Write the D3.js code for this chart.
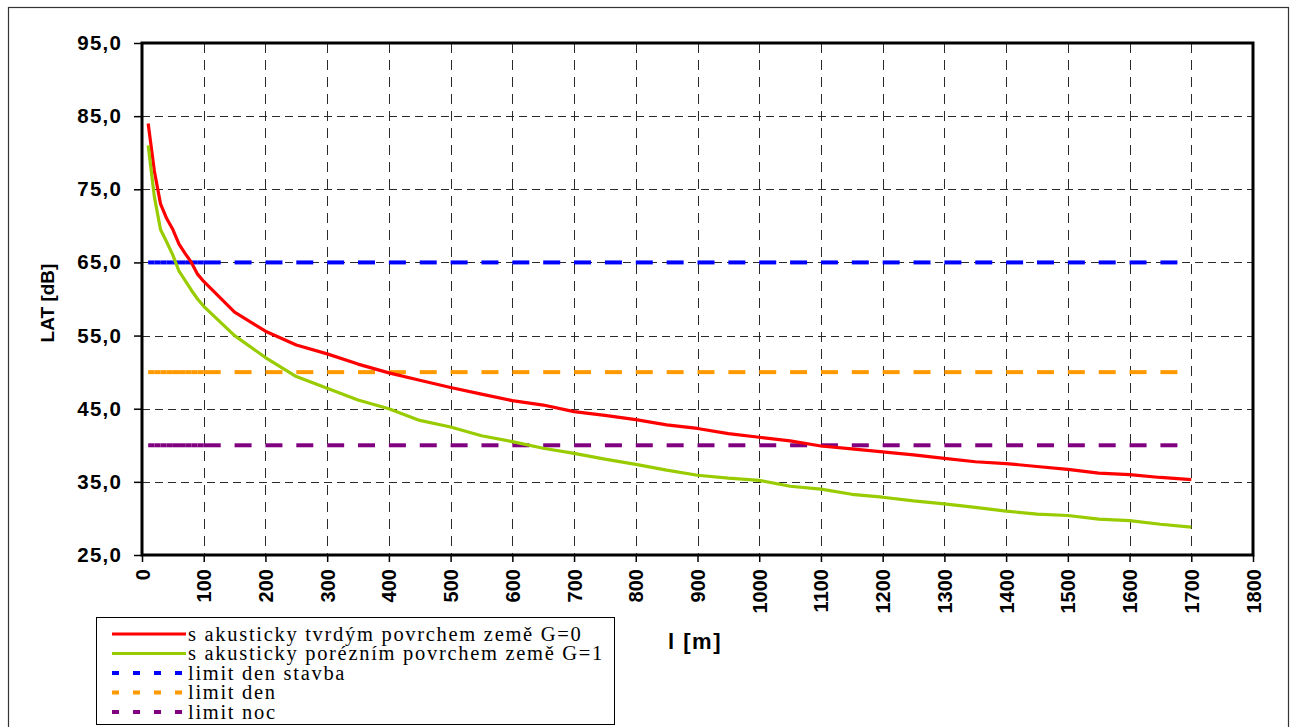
<!DOCTYPE html>
<html>
<head>
<meta charset="utf-8">
<script src="https://cdn.jsdelivr.net/npm/d3@7/dist/d3.min.js"></script>
<style>
  html, body { margin: 0; padding: 0; background: #fff; }
  svg { display: block; }
</style>
</head>
<body>
<svg id="chart" width="1291" height="727"></svg>
<script>
// ---- data ----
const distances = [10, 20, 30, 40, 50, 60, 70, 80, 90, 100,
  150, 200, 250, 300, 350, 400, 450, 500, 550, 600, 650, 700, 750, 800, 850,
  900, 950, 1000, 1050, 1100, 1150, 1200, 1250, 1300, 1350, 1400, 1450, 1500,
  1550, 1600, 1650, 1700];
const hardG0 = [84.0, 77.5, 73.0, 71.0, 69.5, 67.5, 66.2, 65.0, 63.4, 62.4,
  58.2, 55.6, 53.7, 52.5, 51.1, 49.9, 48.9, 47.9, 47.0, 46.1, 45.5, 44.6, 44.1, 43.5, 42.8,
  42.3, 41.6, 41.1, 40.6, 39.9, 39.5, 39.1, 38.7, 38.2, 37.75, 37.5, 37.1, 36.7,
  36.2, 36.0, 35.6, 35.3];
const porousG1 = [81.0, 74.0, 69.5, 67.8, 66.0, 63.8, 62.5, 61.2, 60.0, 59.0,
  55.0, 52.0, 49.4, 47.8, 46.2, 45.0, 43.4, 42.5, 41.3, 40.5, 39.6, 38.9, 38.1, 37.4, 36.6,
  35.9, 35.5, 35.2, 34.4, 34.0, 33.3, 32.9, 32.4, 32.0, 31.5, 31.0, 30.6, 30.4,
  29.9, 29.7, 29.2, 28.8];
const limitDenStavba = 65;
const limitDen = 50;
const limitNoc = 40;
const seriesNames = [
  "s akusticky tvrdým povrchem země G=0",
  "s akusticky porézním povrchem země G=1",
  "limit den stavba",
  "limit den",
  "limit noc"
];
const seriesColors = ["#FF0000", "#99CC00", "#0000FF", "#FF9900", "#800080"];
const xTicks = [0, 100, 200, 300, 400, 500, 600, 700, 800, 900, 1000, 1100, 1200, 1300, 1400, 1500, 1600, 1700, 1800];
const yTicks = [25, 35, 45, 55, 65, 75, 85, 95];
const xTitle = "l [m]";
const yTitle = "LAT [dB]";

// ---- layout ----
const svg = d3.select("#chart");
const plot = { left: 142, top: 43, right: 1253, bottom: 555 };

const x = d3.scaleLinear().domain([0, 1800]).range([plot.left, plot.right]);
const y = d3.scaleLinear().domain([25, 95]).range([plot.bottom, plot.top]);

// outer frame
svg.append("rect")
  .attr("x", 8.5).attr("y", 7.5).attr("width", 1280).attr("height", 740)
  .attr("fill", "#fff").attr("stroke", "#333").attr("stroke-width", 1.2);

// plot background
svg.append("rect")
  .attr("x", plot.left).attr("y", plot.top)
  .attr("width", plot.right - plot.left).attr("height", plot.bottom - plot.top)
  .attr("fill", "#fff");

// gridlines
const grid = svg.append("g");
grid.selectAll("line.h").data(yTicks.slice(1, -1)).join("line")
  .attr("x1", plot.left).attr("x2", plot.right)
  .attr("y1", d => Math.round(y(d)) + 0.5).attr("y2", d => Math.round(y(d)) + 0.5)
  .attr("stroke", "#2a2a2a").attr("stroke-width", 1).attr("stroke-dasharray", "8,5");
grid.selectAll("line.v").data(xTicks.slice(1, -1)).join("line")
  .attr("y1", plot.top).attr("y2", plot.bottom)
  .attr("x1", d => Math.round(x(d)) + 0.5).attr("x2", d => Math.round(x(d)) + 0.5)
  .attr("stroke", "#2a2a2a").attr("stroke-width", 1).attr("stroke-dasharray", "10,7");

// limit lines (dash restarts at every data point)
const limits = [limitDenStavba, limitDen, limitNoc];
limits.forEach((lv, k) => {
  const segs = d3.pairs(distances);
  svg.append("g").selectAll("line").data(segs).join("line")
    .attr("x1", d => x(d[0])).attr("x2", d => x(d[1]))
    .attr("y1", y(lv)).attr("y2", y(lv))
    .attr("stroke", seriesColors[k + 2]).attr("stroke-width", 4)
    .attr("stroke-dasharray", "17,14");
});

// curves
const line = d3.line().x(d => x(d[0])).y(d => y(d[1]));
[hardG0, porousG1].forEach((vals, k) => {
  svg.append("path")
    .datum(distances.map((dx, i) => [dx, vals[i]]))
    .attr("d", line)
    .attr("fill", "none")
    .attr("stroke", seriesColors[k])
    .attr("stroke-width", 3.2)
    .attr("stroke-linejoin", "round");
});

// plot frame
svg.append("rect")
  .attr("x", plot.left).attr("y", plot.top)
  .attr("width", plot.right - plot.left).attr("height", plot.bottom - plot.top)
  .attr("fill", "none").attr("stroke", "#000").attr("stroke-width", 3);

// axes
const yAxis = d3.axisLeft(y).tickValues(yTicks).tickSize(8).tickPadding(12)
  .tickFormat(d => d3.format(".1f")(d).replace(".", ","));
const gy = svg.append("g").attr("transform", `translate(${plot.left},0)`).call(yAxis);
gy.select(".domain").remove();
gy.selectAll(".tick line").attr("stroke", "#000").attr("stroke-width", 1.5);
gy.selectAll(".tick text")
  .attr("font-family", "Liberation Sans, Arial, sans-serif")
  .attr("font-weight", "bold").attr("font-size", 20.5)
  .attr("letter-spacing", 1.2).attr("fill", "#000");

const xAxis = d3.axisBottom(x).tickValues(xTicks).tickSize(7).tickFormat(d3.format("d"));
const gx = svg.append("g").attr("transform", `translate(0,${plot.bottom})`).call(xAxis);
gx.select(".domain").remove();
gx.selectAll(".tick line").attr("stroke", "#000").attr("stroke-width", 1.5);
gx.selectAll(".tick text")
  .attr("font-family", "Liberation Sans, Arial, sans-serif")
  .attr("font-weight", "bold").attr("font-size", 20).attr("fill", "#000")
  .attr("transform", "rotate(-90)")
  .attr("text-anchor", "end")
  .attr("x", -14).attr("y", 0).attr("dy", "0.35em");

// axis titles
svg.append("text")
  .attr("transform", "translate(54,303) rotate(-90)")
  .attr("text-anchor", "middle")
  .attr("font-family", "Liberation Sans, Arial, sans-serif")
  .attr("font-weight", "bold").attr("font-size", 19)
  .text(yTitle);
svg.append("text")
  .attr("x", 695).attr("y", 649)
  .attr("text-anchor", "middle")
  .attr("font-family", "Liberation Sans, Arial, sans-serif")
  .attr("font-weight", "bold").attr("font-size", 22).attr("letter-spacing", 1.5)
  .text(xTitle);

// legend
const lg = svg.append("g");
lg.append("rect")
  .attr("x", 96.5).attr("y", 617.5).attr("width", 518).attr("height", 107)
  .attr("fill", "#fff").attr("stroke", "#000").attr("stroke-width", 1);
const rowY = d3.scaleLinear().domain([0, 4]).range([634, 712]);
seriesNames.forEach((name, i) => {
  const yy = rowY(i);
  lg.append("line")
    .attr("x1", 112).attr("x2", 186).attr("y1", yy).attr("y2", yy)
    .attr("stroke", seriesColors[i])
    .attr("stroke-width", i < 2 ? 3 : 4)
    .attr("stroke-dasharray", i < 2 ? null : "7,14");
  lg.append("text")
    .attr("x", 188).attr("y", yy).attr("dy", "0.32em")
    .attr("font-family", "Liberation Serif, Times New Roman, serif")
    .attr("font-size", 20.5).attr("letter-spacing", 1.7)
    .attr("fill", "#000")
    .text(name);
});
</script>
</body>
</html>
